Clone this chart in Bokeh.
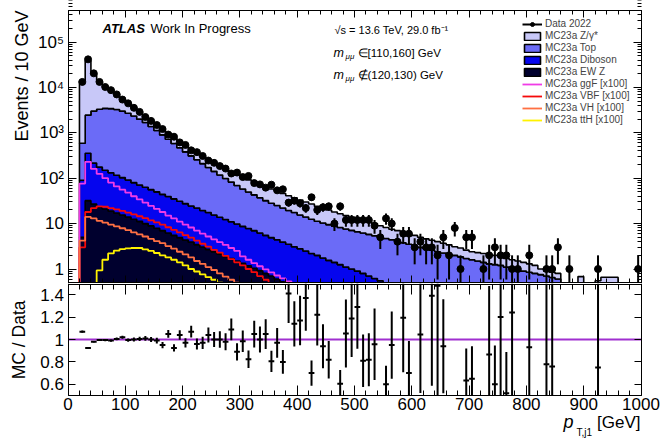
import numpy as np
from bokeh.plotting import figure
from bokeh.layouts import column
from bokeh.models import (Range1d, LinearAxis, LogAxis, FixedTicker, SingleIntervalTicker,
                          Label, Legend, LegendItem)
from bokeh.embed import file_html
from bokeh.resources import INLINE

FONT = "Liberation Sans"

# ---------------- data (10 GeV bins from 20 to 1000 GeV) ----------------
bin_edges = np.arange(20, 1001, 10)

zgamma_yield = [13510, 36050, 17000, 9900, 6750, 5200, 3750, 2500, 1750, 1200,
                900, 570, 450, 350, 250, 240, 180, 170, 145, 130,
                105, 90, 83, 76, 67, 62, 56, 49, 46, 42,
                39, 36, 33, 30, 27, 24, 21.5, 19.5, 17.5, 16,
                14.5, 12.7, 11.7, 10.5, 9.2, 8.3, 7.4, 6.9, 6.4, 5.8,
                5.2, 4.6, 4.0, 3.5, 3.1, 2.9, 2.6, 2.5, 2.3, 2.0,
                1.8, 1.7, 1.6, 1.45, 1.3, 1.1, 1.05, 0.9, 0.8, 0.8,
                0.8, 0.8, 0.75, 0.7, 0.6, 0.6, 0.55, 0.5, 0.45, 0.4,
                0.25, 0.2, 0.2, 0.2, 0, 0, 0, 0.68, 0, 0,
                0.55, 0.66, 0.66, 0.66, 0, 0, 0, 0]
top_yield = [500, 2095, 2785, 3125, 3300, 3268, 3134, 2897, 2609, 2270,
             1929, 1617, 1324, 1070, 856, 680, 545, 439, 352, 285,
             233, 190, 154, 126, 104, 86, 71, 59, 49, 42,
             36, 30.8, 26.5, 23.1, 20.6, 18.1, 16, 14.4, 12.7, 11.5,
             10.3, 9.3, 8.55, 7.95, 7.4, 6.95, 6.5, 6.1, 5.7, 5.4,
             5.1, 4.78, 4.45, 4.22, 3.98, 3.73, 3.47, 3.21, 2.94, 2.77,
             2.6, 2.42, 2.24, 2.11, 1.98, 1.89, 1.75, 1.61, 1.52, 1.43,
             1.35, 1.25, 1.21, 1.16, 1.07, 0.97, 0.92, 0.88, 0.83, 0.78,
             0.73, 0.69, 0.64, 0.59] + [0] * 14
diboson_yield = [85, 323, 188, 151.5, 129, 113, 99, 87.5, 77, 67.5,
                 59.8, 53, 47.1, 42.1, 37, 33.3, 29.5, 26.1, 23.15, 20.6,
                 18.55, 16.45, 14.8, 13.1, 11.65, 10.4, 9.3, 8.3, 7.37, 6.62,
                 5.96, 5.28, 4.7, 4.2, 3.8, 3.38, 3.05, 2.7, 2.45, 2.2,
                 1.94, 1.77, 1.55, 1.37, 1.24, 1.11, 0.98, 0.89, 0.8, 0.71,
                 0.62, 0.55, 0.49, 0.43, 0.37, 0.33, 0.29, 0.26, 0.23, 0.2,
                 0.18, 0.16, 0.14, 0.12, 0.11, 0.1, 0.09, 0.08, 0.07, 0.06,
                 0.05, 0.05, 0.04, 0.04, 0.03, 0.03, 0.03, 0.02, 0.02, 0.02,
                 0.02, 0.01, 0.01, 0.01] + [0] * 14
ewz_yield = [5, 32, 27, 23.5, 21, 19, 17, 15.5, 14, 12.5,
             11.2, 10, 8.9, 7.9, 7.0, 6.2, 5.5, 4.9, 4.35, 3.9,
             3.45, 3.05, 2.7, 2.4, 2.15, 1.9, 1.7, 1.5, 1.33, 1.18,
             1.04, 0.92, 0.8, 0.7, 0.6, 0.52, 0.45, 0.4, 0.35, 0.3,
             0.26, 0.23, 0.2, 0.18, 0.16, 0.14, 0.12, 0.11, 0.1, 0.09,
             0.08, 0.07, 0.06, 0.05, 0.05, 0.04, 0.04, 0.03, 0.03, 0.03,
             0.02, 0.02, 0.02, 0.02, 0.01, 0.01, 0.01, 0.01, 0.01, 0.01] + [0] * 28

ggf_x100 = [76, 229, 160, 125, 100, 80, 66, 56, 48, 40,
            34, 29, 24.5, 21, 18, 15, 13, 11, 9.5, 8.2,
            7, 6, 5.2, 4.5, 3.9, 3.4, 2.9, 2.5, 1.9, 1.6,
            1.35, 1.15, 0.98, 0.84, 0.72, 0.62, 0.53, 0.46] + [0] * 60
vbf_x100 = [3, 18, 22, 24, 23.5, 22, 20.5, 19, 17.5, 16,
            14.5, 13.2, 11.8, 10.6, 9.5, 8.3, 7.3, 6.4, 5.6, 4.9,
            4.2, 3.6, 3.1, 2.65, 2.3, 1.95, 1.65, 1.4, 1.2, 1.0,
            0.85, 0.7, 0.58, 0.48] + [0] * 64
vh_x100 = [4.2, 14, 13, 11.5, 10.5, 9.5, 8.7, 7.9, 7.2, 6.4,
           5.8, 5.2, 4.6, 4.1, 3.7, 3.2, 2.8, 2.4, 2.1, 1.8,
           1.5, 1.3, 1.1, 0.95, 0.8, 0.68, 0.58, 0.5, 0.43] + [0] * 69
tth_x100 = [0, 0, 0, 0.93, 1.6, 2.2, 2.55, 2.75, 2.85, 2.9,
            2.9, 2.7, 2.5, 2.25, 2.0, 1.8, 1.6, 1.4, 1.2, 1.0,
            0.88, 0.76, 0.66, 0.58, 0.5, 0.44] + [0] * 72

data_2022 = [13200, 41500, 20400, 13200, 10200, 8700, 7000, 5400, 4450, 3550,
             2890, 2230, 1830, 1485, 1210, 915, 820, 615, 540, 411,
             375, 309, 245, 218, 185, 163, 127, 133, 106, 112,
             78, 73, 62, 72, 54, 57, 29, 32, 28, 22,
             38, 20, 23, 24, 10, 24, 12, 12, 12, 12,
             12, 9, 5, 13, 10, 4, 6, 6, 3, 4,
             3, 3, 2, 5, 2, 8, 1, 5, 5, 0,
             1, 2, 3, 2, 2, 1, 1, 0, 2, 0,
             0, 1, 1, 3, 0, 1, 0, 0, 0, 0,
             1, 0, 0, 0, 0, 0, 0, 1]

ratio_centers = [25, 35, 45, 55, 65, 75, 85, 95, 105, 115, 125, 135, 145, 155, 165,
                 175, 185, 195, 205, 215, 225, 235, 245, 255, 265, 275, 285, 295,
                 305, 315, 325, 335, 345, 355, 365, 375, 385, 395, 405, 415, 425,
                 435, 445, 455, 475, 485, 495, 505, 515, 525, 535, 555, 565, 585,
                 595, 615, 635, 645, 655, 695, 705, 735, 745, 755, 765, 775, 805,
                 835, 845, 925]
ratio_values = [1.07, 0.925, 0.98, 0.995, 0.995, 0.99, 1.005, 1.02, 0.995, 1.0, 1.005,
                1.01, 1.0, 0.99, 0.95, 1.05, 0.925, 1.04, 0.97, 1.07, 0.96, 0.97, 1.04,
                1.0, 1.0, 0.98, 1.09, 0.89, 0.985, 0.823, 1.048, 1.0, 1.048, 0.805,
                0.97, 0.80, 1.41, 1.14, 1.17, 1.37, 0.70, 1.22, 0.94, 0.82, 0.605,
                1.053, 1.187, 1.29, 0.81, 0.82, 0.957, 0.60, 0.95, 1.194, 0.70, 1.045,
                1.39, 1.48, 0.94, 0.635, 0.65, 0.865, 0.60, 1.2, 0.52, 1.24, 0.93,
                0.78, 0.76, 0.75]

main_y_ticks = [1, 10, 100, 1000, 10000, 100000]
main_y_tick_labels = ["1", "10", "10²", "10³", "10⁴", "10⁵"]
ratio_y_ticks = [0.6, 0.8, 1.0, 1.2, 1.4]
ratio_y_tick_labels = ["0.6", "0.8", "1", "1.2", "1.4"]
ratio_reference = 1.0

# axis extents of the plotted boxes
X_MIN, X_MAX = 0, 1000
Y_MIN, Y_MAX = 0.48, 5.0e5
R_MIN, R_MAX = 0.5, 1.5

COL_Z = "#c8c8f8"
COL_TOP = "#6b6bf7"
COL_DIB = "#0505ee"
COL_EWZ = "#00002e"
COL_GGF = "#f03ce6"
COL_VBF = "#f50a0a"
COL_VH = "#ff7043"
COL_TTH = "#fff200"
COL_RATIO = "#a030d0"

# ---------------- canvas geometry (pixels) ----------------
W = 663
H_MAIN = 283
H_RATIO = 155
PX_LEFT = 67.5          # pixel of x = X_MIN
PX_PER_GEV = 0.573
PX_ONE = 268.5          # pixel row of y = 1 in the main panel
PX_PER_DEC = 45.4
PX_PER_RATIO = 112.0

x_lo = -PX_LEFT / PX_PER_GEV
x_hi = (W - PX_LEFT) / PX_PER_GEV
y_lo = 10 ** (-(H_MAIN - PX_ONE) / PX_PER_DEC)
y_hi = 10 ** (PX_ONE / PX_PER_DEC)
r_hi = R_MAX
r_lo = R_MAX - H_RATIO / PX_PER_RATIO

FLOOR = 1e-3
nb = len(bin_edges) - 1
centers = 0.5 * (bin_edges[:-1] + bin_edges[1:])


def step_line(vals):
    v = np.maximum(np.asarray(vals, float), FLOOR)
    xs = np.concatenate([[bin_edges[0]], np.repeat(bin_edges, 2)[1:-1], [bin_edges[-1]]])
    ys = np.concatenate([[FLOOR], np.repeat(v, 2), [FLOOR]])
    return xs, ys


def band(lo, hi):
    xs = np.repeat(bin_edges, 2)[1:-1]
    yl = np.repeat(np.maximum(lo, FLOOR), 2)
    yh = np.repeat(np.maximum(hi, FLOOR), 2)
    return np.concatenate([xs, xs[::-1]]), np.concatenate([yh, yl[::-1]])


def setup_axis(ax, loc, bounds, ticker, major, minor, show_labels, size="17px", standoff=4):
    ax.fixed_location = loc
    ax.bounds = bounds
    ax.ticker = ticker
    ax.major_tick_in = major
    ax.major_tick_out = 0
    ax.minor_tick_in = minor
    ax.minor_tick_out = 0
    ax.axis_line_color = "black"
    ax.axis_line_width = 1
    ax.major_tick_line_color = "black"
    ax.minor_tick_line_color = "black" if minor > 0 else None
    ax.axis_label = None
    if show_labels:
        ax.major_label_text_font = FONT
        ax.major_label_text_font_size = size
        ax.major_label_text_color = "black"
        ax.major_label_standoff = standoff
    else:
        ax.major_label_text_color = None


def add_text(fig, x, y, text, size, style="normal", align="left", baseline="middle", angle=0.0):
    fig.add_layout(Label(x=x, y=y, x_units="screen", y_units="screen", text=text,
                         text_font=FONT, text_font_size=size, text_font_style=style,
                         text_align=align, text_baseline=baseline, angle=angle,
                         text_color="black"))


# ---------------- main panel ----------------
p = figure(width=W, height=H_MAIN, x_range=Range1d(x_lo, x_hi), y_range=Range1d(y_lo, y_hi),
           y_axis_type="log", output_backend="svg", toolbar_location=None,
           min_border_left=0, min_border_right=0, min_border_top=0, min_border_bottom=0)
p.add_layout(LogAxis(), "right")
p.add_layout(LinearAxis(), "above")
p.grid.visible = False
p.outline_line_color = None
p.background_fill_color = "white"
p.border_fill_color = "white"

minor_log = [m * 10.0 ** e for e in range(-1, 6) for m in range(2, 10)]
overrides = dict(zip(main_y_ticks, main_y_tick_labels))
setup_axis(p.left[0], X_MIN, (Y_MIN, Y_MAX), FixedTicker(ticks=main_y_ticks, minor_ticks=minor_log), 8, 4, True)
p.left[0].major_label_overrides = overrides
setup_axis(p.right[0], X_MAX, (Y_MIN, Y_MAX), FixedTicker(ticks=main_y_ticks, minor_ticks=minor_log), 8, 4, False)
setup_axis(p.below[0], Y_MIN * 1.026, (X_MIN, X_MAX), SingleIntervalTicker(interval=100, num_minor_ticks=5), 7, 4, False)
setup_axis(p.above[0], Y_MAX, (X_MIN, X_MAX), SingleIntervalTicker(interval=100, num_minor_ticks=5), 7, 4, False)

# stacked backgrounds: filled bands outlined in black (ROOT hist style)
stack = [("ewz", ewz_yield, COL_EWZ), ("dib", diboson_yield, COL_DIB),
         ("top", top_yield, COL_TOP), ("z", zgamma_yield, COL_Z)]
cum = np.zeros(nb)
bands = {}
for name, vals, col in stack:
    lo = cum.copy()
    cum = cum + np.asarray(vals, float)
    bx, by = band(lo, cum)
    bands[name] = p.patch(bx, by, fill_color=col, line_color="black", line_width=1.6)

sig_renderers = []
for vals, col in [(ggf_x100, COL_GGF), (vbf_x100, COL_VBF), (vh_x100, COL_VH), (tth_x100, COL_TTH)]:
    sx, sy = step_line(vals)
    sig_renderers.append(p.line(sx, sy, line_color=col, line_width=1.8))

d = np.asarray(data_2022, float)
m = d > 0
dc, dv = centers[m], d[m]
de = np.sqrt(dv)
seg = p.segment(x0=dc, y0=np.maximum(dv - de, FLOOR), x1=dc, y1=dv + de,
                line_color="black", line_width=2)
dots = p.scatter(x=dc, y=dv, marker="circle", size=7, fill_color="black", line_color="black")

legend = Legend(items=[
    LegendItem(label="Data 2022", renderers=[seg, dots]),
    LegendItem(label="MC23a Z/γ*", renderers=[bands["z"]]),
    LegendItem(label="MC23a Top", renderers=[bands["top"]]),
    LegendItem(label="MC23a Diboson", renderers=[bands["dib"]]),
    LegendItem(label="MC23a EW Z", renderers=[bands["ewz"]]),
    LegendItem(label="MC23a ggF [x100]", renderers=[sig_renderers[0]]),
    LegendItem(label="MC23a VBF [x100]", renderers=[sig_renderers[1]]),
    LegendItem(label="MC23a VH [x100]", renderers=[sig_renderers[2]]),
    LegendItem(label="MC23a ttH [x100]", renderers=[sig_renderers[3]]),
], location="top_right")
legend.background_fill_alpha = 0
legend.border_line_alpha = 0
legend.label_text_font = FONT
legend.label_text_font_size = "10px"
legend.glyph_width = 20
legend.glyph_height = 10
legend.label_height = 10
legend.label_width = 100
legend.label_standoff = 3
legend.spacing = 1
legend.padding = 4
legend.margin = 14
p.add_layout(legend)

# texts in the main panel (screen px from bottom-left of the canvas)
add_text(p, 102, H_MAIN - 28, "ATLAS", "13px", style="bold italic")
add_text(p, 150, H_MAIN - 28, "Work In Progress", "13px")
add_text(p, 334, H_MAIN - 29, "√s = 13.6 TeV, 29.0 fb⁻¹", "11px")
add_text(p, 333, H_MAIN - 52, "m", "12.5px", style="italic")
add_text(p, 345, H_MAIN - 56, "μμ", "8px", style="italic")
add_text(p, 357, H_MAIN - 52, "∈[110,160] GeV", "11.5px")
add_text(p, 333, H_MAIN - 74, "m", "12.5px", style="italic")
add_text(p, 345, H_MAIN - 78, "μμ", "8px", style="italic")
add_text(p, 357, H_MAIN - 74, "∉(120,130) GeV", "11.5px")
add_text(p, 21, H_MAIN - 10, "Events / 10 GeV", "18px", align="right", angle=np.pi / 2)

# ---------------- ratio panel ----------------
r = figure(width=W, height=H_RATIO, x_range=p.x_range, y_range=Range1d(r_lo, r_hi),
           output_backend="svg", toolbar_location=None,
           min_border_left=0, min_border_right=0, min_border_top=0, min_border_bottom=0)
r.add_layout(LinearAxis(), "right")
r.add_layout(LinearAxis(), "above")
r.grid.visible = False
r.outline_line_color = None
r.background_fill_color = "white"
r.border_fill_color = "white"

setup_axis(r.below[0], R_MIN, (X_MIN, X_MAX), SingleIntervalTicker(interval=100, num_minor_ticks=5), 10, 5, True, standoff=2)
setup_axis(r.above[0], R_MAX - 0.5 / PX_PER_RATIO, (X_MIN, X_MAX), SingleIntervalTicker(interval=100, num_minor_ticks=5), 10, 5, False)
setup_axis(r.left[0], X_MIN, (R_MIN, R_MAX), FixedTicker(ticks=ratio_y_ticks), 7, 0, True)
r.left[0].major_label_overrides = dict(zip(ratio_y_ticks, ratio_y_tick_labels))
setup_axis(r.right[0], X_MAX, (R_MIN, R_MAX), FixedTicker(ticks=ratio_y_ticks), 7, 0, False)

r.segment(x0=[X_MIN], y0=[ratio_reference], x1=[X_MAX], y1=[ratio_reference],
          line_color=COL_RATIO, line_width=2)

rc = np.asarray(ratio_centers, float)
rv = np.asarray(ratio_values, float)
idx = np.searchsorted(bin_edges, rc) - 1
rerr = rv / np.sqrt(d[idx])
half = 0.5 * (bin_edges[idx + 1] - bin_edges[idx])
r.segment(x0=rc, y0=np.clip(rv - rerr, R_MIN, R_MAX), x1=rc, y1=np.clip(rv + rerr, R_MIN, R_MAX),
          line_color="black", line_width=2)
r.segment(x0=rc - half, y0=rv, x1=rc + half, y1=rv, line_color="black", line_width=2)

add_text(r, 18, H_RATIO - 17, "MC / Data", "17.5px", align="right", angle=np.pi / 2)
add_text(r, 640, H_RATIO - 139, "[GeV]", "17px", align="right", baseline="alphabetic")
add_text(r, 563, H_RATIO - 138, "p", "18px", style="italic", baseline="alphabetic")
add_text(r, 576, H_RATIO - 149, "T,j1", "10px", baseline="alphabetic")

layout = column(p, r)
with open("out.html", "w") as f:
    f.write(file_html(layout, INLINE))
